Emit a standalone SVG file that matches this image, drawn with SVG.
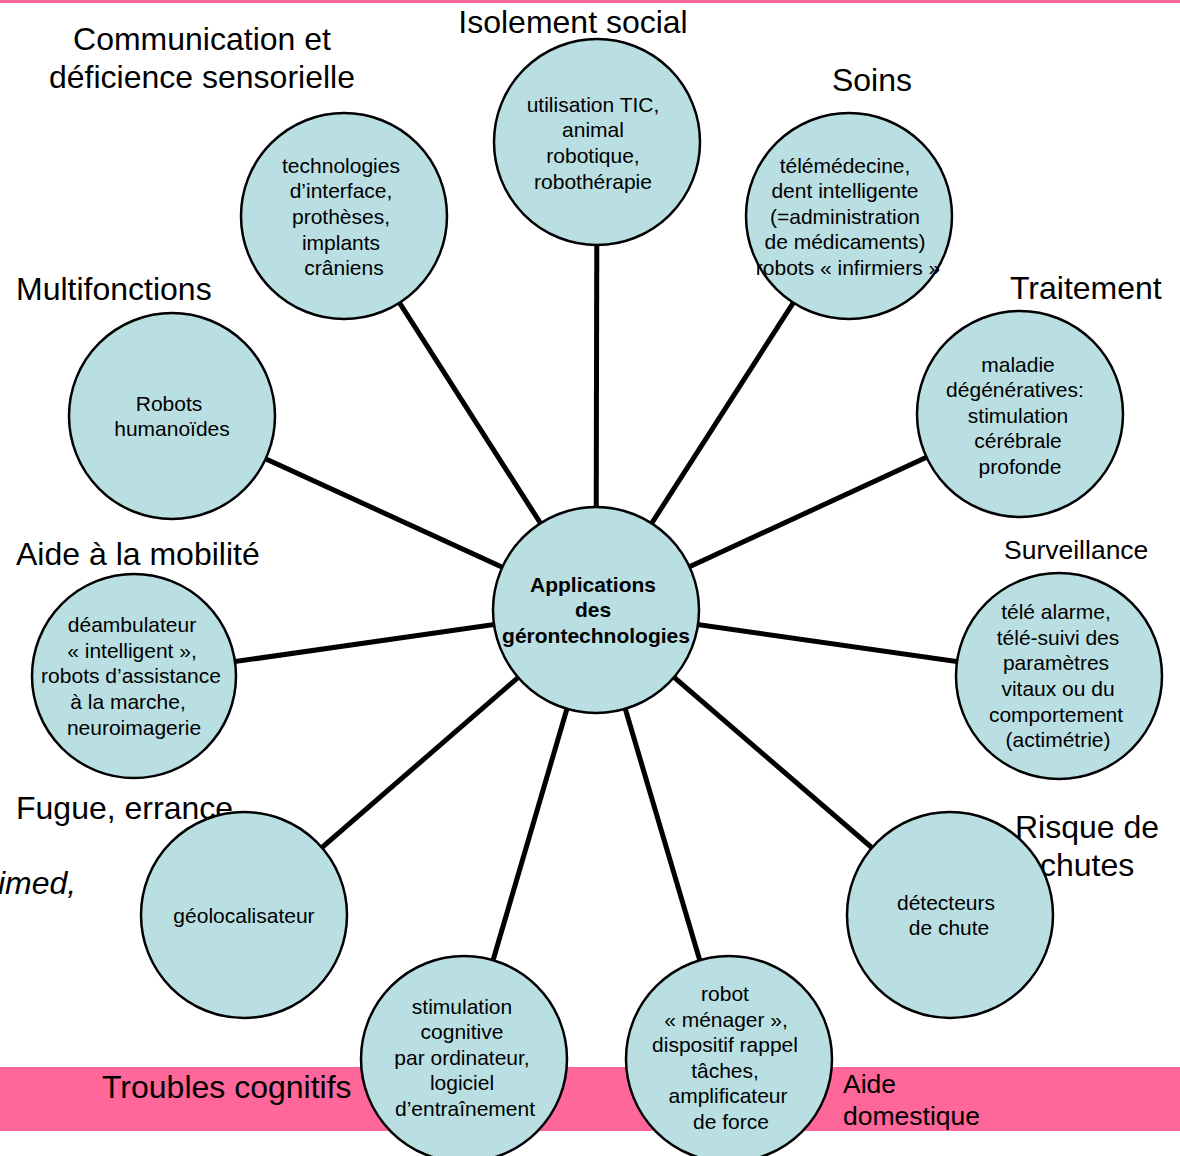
<svg xmlns="http://www.w3.org/2000/svg" width="1180" height="1156" viewBox="0 0 1180 1156">
<style>
.bg{fill:#ffffff}
.pink{fill:#FF6699}
.node{fill:#B9DFE3;stroke:#000;stroke-width:2.5}
.t{font-family:"Liberation Sans",Arial,sans-serif;font-size:21px;fill:#000;text-anchor:middle}
.tb{font-family:"Liberation Sans",Arial,sans-serif;font-size:21px;font-weight:bold;fill:#000;text-anchor:middle}
.lab{font-family:"Liberation Sans",Arial,sans-serif;font-size:32px;fill:#000}
.lab2{font-family:"Liberation Sans",Arial,sans-serif;font-size:26.5px;fill:#000}
.conn line{stroke:#000;stroke-width:5}
</style>
<rect class="bg" x="0" y="0" width="1180" height="1156"/>
<rect class="pink" x="0" y="0" width="1180" height="3"/>
<rect class="pink" x="0" y="1067" width="1180" height="64"/>

<g id="labels">
<text class="lab" x="573" y="33" text-anchor="middle">Isolement social</text>
<text class="lab" x="202" y="50" text-anchor="middle">Communication et</text>
<text class="lab" x="202" y="88" text-anchor="middle">déficience sensorielle</text>
<text class="lab" x="872" y="91" text-anchor="middle">Soins</text>
<text class="lab" x="16" y="300">Multifonctions</text>
<text class="lab" x="1010" y="299">Traitement</text>
<text class="lab" x="16" y="565">Aide à la mobilité</text>
<text class="lab2" x="1004" y="559">Surveillance</text>
<text class="lab" x="16" y="819">Fugue, errance</text>
<text class="lab" x="1015" y="838">Risque de</text>
<text class="lab" x="1040" y="876">chutes</text>
<text class="lab" x="-2" y="894" font-style="italic" font-size="25">imed,</text>
<text class="lab" x="102" y="1098">Troubles cognitifs</text>
<text class="lab2" x="843" y="1093">Aide</text>
<text class="lab2" x="843" y="1125">domestique</text>
</g>

<g id="connectors" class="conn">
<line x1="596" y1="610" x2="597" y2="142"/>
<line x1="596" y1="610" x2="344" y2="216"/>
<line x1="596" y1="610" x2="849" y2="216"/>
<line x1="596" y1="610" x2="172" y2="416"/>
<line x1="596" y1="610" x2="1020" y2="414"/>
<line x1="596" y1="610" x2="134" y2="676"/>
<line x1="596" y1="610" x2="1059" y2="676"/>
<line x1="596" y1="610" x2="244" y2="915"/>
<line x1="596" y1="610" x2="950" y2="915"/>
<line x1="596" y1="610" x2="464" y2="1059"/>
<line x1="596" y1="610" x2="729" y2="1059"/>
</g>

<g id="center">
<circle class="node" cx="596" cy="610" r="103"/>
<text class="tb" x="593" y="592">Applications</text>
<text class="tb" x="593" y="617">des</text>
<text class="tb" x="596" y="643">gérontechnologies</text>
</g>

<g id="isolement">
<circle class="node" cx="597" cy="142" r="103"/>
<text class="t" x="593" y="112">utilisation TIC,</text>
<text class="t" x="593" y="137">animal</text>
<text class="t" x="593" y="163">robotique,</text>
<text class="t" x="593" y="189">robothérapie</text>
</g>

<g id="communication">
<circle class="node" cx="344" cy="216" r="103"/>
<text class="t" x="341" y="173">technologies</text>
<text class="t" x="341" y="198">d’interface,</text>
<text class="t" x="341" y="224">prothèses,</text>
<text class="t" x="341" y="250">implants</text>
<text class="t" x="344" y="275">crâniens</text>
</g>

<g id="soins">
<circle class="node" cx="849" cy="216" r="103"/>
<text class="t" x="845" y="173">télémédecine,</text>
<text class="t" x="845" y="198">dent intelligente</text>
<text class="t" x="845" y="224">(=administration</text>
<text class="t" x="845" y="249">de médicaments)</text>
<text class="t" x="848" y="275">robots « infirmiers »</text>
</g>

<g id="multifonctions">
<circle class="node" cx="172" cy="416" r="103"/>
<text class="t" x="169" y="411">Robots</text>
<text class="t" x="172" y="436">humanoïdes</text>
</g>

<g id="traitement">
<circle class="node" cx="1020" cy="414" r="103"/>
<text class="t" x="1018" y="372">maladie</text>
<text class="t" x="1015" y="397">dégénératives:</text>
<text class="t" x="1018" y="423">stimulation</text>
<text class="t" x="1018" y="448">cérébrale</text>
<text class="t" x="1020" y="474">profonde</text>
</g>

<g id="mobilite">
<circle class="node" cx="134" cy="676" r="102"/>
<text class="t" x="132" y="632">déambulateur</text>
<text class="t" x="132" y="658">« intelligent »,</text>
<text class="t" x="131" y="683">robots d’assistance</text>
<text class="t" x="128" y="709">à la marche,</text>
<text class="t" x="134" y="735">neuroimagerie</text>
</g>

<g id="surveillance">
<circle class="node" cx="1059" cy="676" r="103"/>
<text class="t" x="1056" y="619">télé alarme,</text>
<text class="t" x="1058" y="645">télé-suivi des</text>
<text class="t" x="1056" y="670">paramètres</text>
<text class="t" x="1058" y="696">vitaux ou du</text>
<text class="t" x="1056" y="722">comportement</text>
<text class="t" x="1058" y="747">(actimétrie)</text>
</g>

<g id="fugue">
<circle class="node" cx="244" cy="915" r="103"/>
<text class="t" x="244" y="923">géolocalisateur</text>
</g>

<g id="chutes">
<circle class="node" cx="950" cy="915" r="103"/>
<text class="t" x="946" y="910">détecteurs</text>
<text class="t" x="949" y="935">de chute</text>
</g>

<g id="cognitifs">
<circle class="node" cx="464" cy="1059" r="103"/>
<text class="t" x="462" y="1014">stimulation</text>
<text class="t" x="462" y="1039">cognitive</text>
<text class="t" x="462" y="1065">par ordinateur,</text>
<text class="t" x="462" y="1090">logiciel</text>
<text class="t" x="465" y="1116">d’entraînement</text>
</g>

<g id="domestique">
<circle class="node" cx="729" cy="1059" r="103"/>
<text class="t" x="725" y="1001">robot</text>
<text class="t" x="726" y="1027">« ménager »,</text>
<text class="t" x="725" y="1052">dispositif rappel</text>
<text class="t" x="725" y="1078">tâches,</text>
<text class="t" x="728" y="1103">amplificateur</text>
<text class="t" x="731" y="1129">de force</text>
</g>
</svg>
